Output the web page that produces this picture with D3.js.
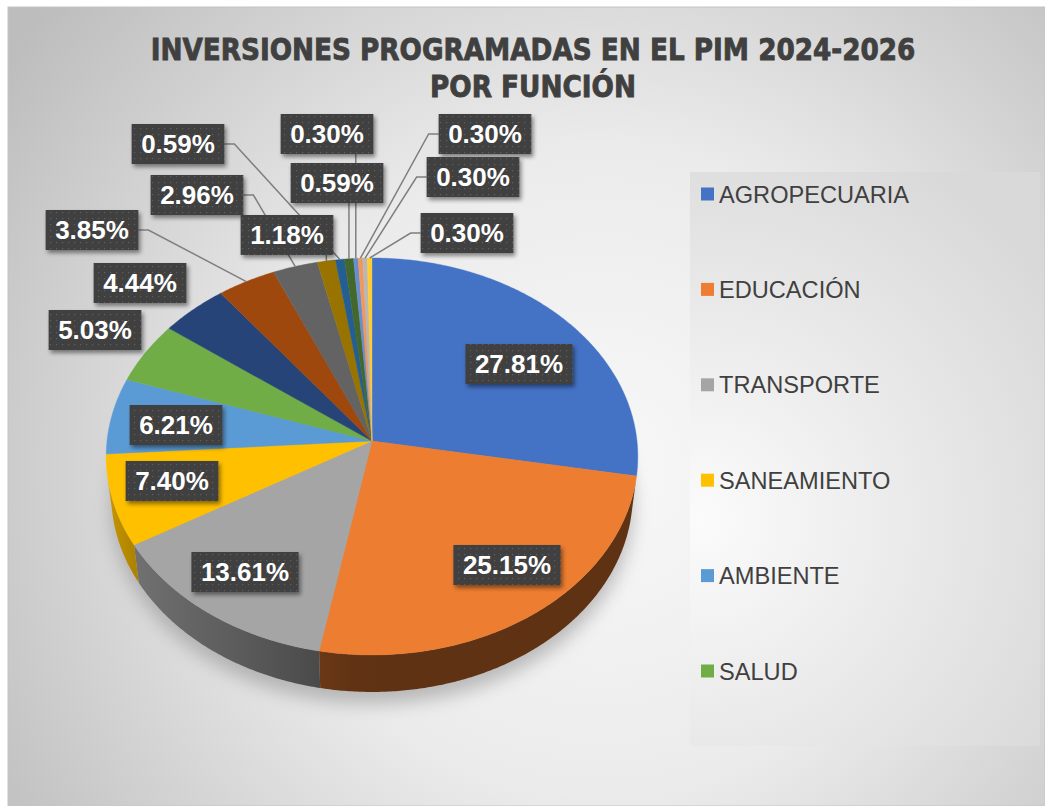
<!DOCTYPE html>
<html lang="es">
<head>
  <meta charset="UTF-8">
  <title>Inversiones programadas en el PIM 2024-2026 por función</title>
  <script src="https://d3js.org/d3.v7.min.js"></script>
  <style>
    body {
      margin: 0;
      background: #fff;
      font-family: "Liberation Sans", Arial, sans-serif;
    }
    svg { display: block; }
  </style>
</head>
<body>
  <div id="chart"></div>

  <script>
    // data (legend only lists the first six functions)
    const titulo = ["INVERSIONES PROGRAMADAS EN EL PIM 2024-2026", "POR FUNCIÓN"];
    const funciones = ["AGROPECUARIA", "EDUCACIÓN", "TRANSPORTE", "SANEAMIENTO", "AMBIENTE", "SALUD"];
    const porcentajes = [27.81, 25.15, 13.61, 7.40, 6.21, 5.03, 4.44, 3.85, 2.96, 1.18, 0.59, 0.59, 0.30, 0.30, 0.30, 0.30];
    const colores = ["#4472C4", "#ED7D31", "#A5A5A5", "#FFC000", "#5B9BD5", "#70AD47",
                     "#264478", "#9E480E", "#636363", "#997300", "#255E91", "#43682B",
                     "#698ED0", "#F1975A", "#B7B7B7", "#FFCD33"];

    // where each data label box sits (center) and whether it gets a leader line
    const etiquetas = [
      [519, 364, false], [507, 565, false], [245, 572, false], [172, 481, false],
      [176, 425, false], [95, 330, false], [140, 283, false], [92, 230, true],
      [197, 195, true], [287, 235, true], [178, 144, true], [337, 183, true],
      [327, 134, true], [485, 134, true], [473, 177, true], [467, 233, true]
    ];

    const width = 1045, height = 806;

    const svg = d3.select("#chart")
      .append("svg")
      .attr("width", width)
      .attr("height", height);

    const defs = svg.append("defs");

    const bgGrad = defs.append("radialGradient")
      .attr("id", "bg")
      .attr("gradientUnits", "userSpaceOnUse")
      .attr("cx", 600).attr("cy", 470).attr("r", 720);
    bgGrad.append("stop").attr("offset", "0").attr("stop-color", "#f8f8f8");
    bgGrad.append("stop").attr("offset", "0.45").attr("stop-color", "#ebebeb");
    bgGrad.append("stop").attr("offset", "1").attr("stop-color", "#bdbdbd");

    const legGrad = defs.append("radialGradient")
      .attr("id", "legbg")
      .attr("gradientUnits", "userSpaceOnUse")
      .attr("cx", 700).attr("cy", 520).attr("r", 420);
    legGrad.append("stop").attr("offset", "0").attr("stop-color", "#fbfbfb");
    legGrad.append("stop").attr("offset", "1").attr("stop-color", "#d9d9d9");

    const pat = defs.append("pattern")
      .attr("id", "dots")
      .attr("patternUnits", "userSpaceOnUse")
      .attr("width", 6).attr("height", 6);
    pat.append("rect").attr("width", 6).attr("height", 6).attr("fill", "#404040");
    pat.append("rect").attr("x", 2).attr("y", 2).attr("width", 1.2).attr("height", 1.2).attr("fill", "#5e5e5e");

    const shadow = defs.append("filter").attr("id", "boxShadow")
      .attr("x", "-20%").attr("y", "-30%").attr("width", "150%").attr("height", "170%");
    shadow.append("feDropShadow")
      .attr("dx", 2).attr("dy", 3).attr("stdDeviation", 2)
      .attr("flood-color", "#000").attr("flood-opacity", 0.45);

    const blur = defs.append("filter").attr("id", "pieShadow")
      .attr("x", "-30%").attr("y", "-30%").attr("width", "160%").attr("height", "160%");
    blur.append("feGaussianBlur").attr("stdDeviation", 9);

    defs.append("clipPath").attr("id", "plotClip")
      .append("rect").attr("x", 8).attr("y", 7).attr("width", 680).attr("height", 722);

    // background
    svg.append("rect")
      .attr("x", 8).attr("y", 7)
      .attr("width", width - 8).attr("height", height - 7)
      .attr("fill", "url(#bg)")
      .attr("stroke", "#c4c4c4");

    svg.append("rect")
      .attr("x", 690).attr("y", 172)
      .attr("width", 350).attr("height", 574)
      .attr("fill", "url(#legbg)");

    // title: heavy and condensed (squeezed horizontally to the reference width)
    const titleWidths = [765, 206];
    svg.append("g").selectAll("text")
      .data(titulo)
      .enter()
      .append("text")
      .attr("text-anchor", "middle")
      .style("font-family", "'DejaVu Sans', sans-serif")
      .style("font-size", "31px")
      .style("font-weight", "bold")
      .style("fill", "#404040")
      .style("stroke", "#404040")
      .style("stroke-width", 0.9)
      .text(d => d)
      .each(function(d, i) {
        const sx = titleWidths[i] / this.getComputedTextLength();
        d3.select(this).attr("transform", `translate(533,${60 + i * 37}) scale(${sx},1)`);
      });

    // 3D pie: perspective projection of a tilted disc
    const cx = 372, cy = 441, focal = 2271, dist = 8.57;
    const sa = 0.7444, ca = Math.sqrt(1 - sa * sa), depth = 0.22;

    function proj(a, r, y) {
      const X = r * Math.sin(a), Z = r * Math.cos(a);
      const yc = Z * sa + y * ca;
      const zc = dist + Z * ca - y * sa;
      return [cx + focal * X / zc, cy - focal * yc / zc];
    }

    const arcs = d3.pie().sort(null).value(d => d)(porcentajes);
    const line = d3.line();
    const step = Math.PI / 360;

    function arcPoints(a0, a1, y) {
      const n = Math.max(2, Math.ceil((a1 - a0) / step));
      return d3.range(n + 1).map(i => proj(a0 + (a1 - a0) * i / n, 1, y));
    }

    function shade(color, a) {
      const deg = a * 180 / Math.PI;
      const k = 0.4 + 0.38 * Math.max(0, Math.min(1, (deg - 180) / 80));
      const c = d3.rgb(color);
      return d3.rgb(c.r * k, c.g * k, c.b * k).formatHex();
    }

    // drop shadow beneath the pie
    svg.append("g")
      .attr("clip-path", "url(#plotClip)")
      .append("path")
      .attr("d", line(arcPoints(0, 2 * Math.PI, -depth).map(p => [p[0], p[1] + 12])) + "Z")
      .attr("fill", "#8c8c8c")
      .attr("opacity", 0.55)
      .attr("filter", "url(#pieShadow)");

    // visible outer wall: cos(a) < -1 / (dist * ca)
    const visLimit = Math.acos(-1 / (dist * ca));
    const walls = svg.append("g");
    arcs.forEach((d, i) => {
      const a0 = Math.max(d.startAngle, visLimit);
      const a1 = Math.min(d.endAngle, 2 * Math.PI - visLimit);
      if (a1 <= a0) return;
      const x0 = proj(a0, 1, 0)[0], x1 = proj(a1, 1, 0)[0];
      const gid = "wall" + i;
      const lg = defs.append("linearGradient")
        .attr("id", gid)
        .attr("gradientUnits", "userSpaceOnUse")
        .attr("x1", x0).attr("y1", 0).attr("x2", x1 === x0 ? x0 + 1 : x1).attr("y2", 0);
      d3.range(11).forEach(k => {
        lg.append("stop")
          .attr("offset", k / 10)
          .attr("stop-color", shade(colores[i], a0 + (a1 - a0) * k / 10));
      });
      const pts = arcPoints(a0, a1, 0).concat(arcPoints(a0, a1, -depth).reverse());
      walls.append("path")
        .attr("d", line(pts) + "Z")
        .attr("fill", `url(#${gid})`);
    });

    // top faces
    svg.append("g").selectAll("path")
      .data(arcs)
      .enter()
      .append("path")
      .attr("d", d => line([[cx, cy]].concat(arcPoints(d.startAngle, d.endAngle, 0))) + "Z")
      .attr("fill", (d, i) => colores[i])
      .attr("stroke", (d, i) => colores[i])
      .attr("stroke-width", 0.4);

    // data labels
    const fmt = d3.format(".2f");
    const leaders = svg.append("g");
    const labelG = svg.append("g");
    const boxH = 40, pad = 9.5;

    arcs.forEach((d, i) => {
      const [lx, ly, hasLeader] = etiquetas[i];
      const g = labelG.append("g");
      const rect = g.append("rect");
      const txt = g.append("text")
        .attr("x", lx)
        .attr("y", ly + 9.3)
        .attr("text-anchor", "middle")
        .style("font-size", "26px")
        .style("font-weight", "bold")
        .style("fill", "#ffffff")
        .text(fmt(d.value) + "%");
      const w = txt.node().getComputedTextLength() + 2 * pad;
      rect.attr("x", lx - w / 2).attr("y", ly - boxH / 2)
        .attr("width", w).attr("height", boxH)
        .attr("fill", "url(#dots)")
        .attr("filter", "url(#boxShadow)");

      if (!hasLeader) return;
      const mid = (d.startAngle + d.endAngle) / 2;
      const p = proj(mid, 1, 0);
      let pts;
      if (p[0] >= lx - w / 2 && p[0] <= lx + w / 2) {
        pts = [[p[0], ly + boxH / 2], p];
      } else if (p[0] > lx) {
        pts = [[lx + w / 2, ly], [lx + w / 2 + 10, ly], p];
      } else {
        pts = [[lx - w / 2, ly], [lx - w / 2 - 10, ly], p];
      }
      leaders.append("path")
        .attr("d", line(pts))
        .attr("fill", "none")
        .attr("stroke", "#7f7f7f")
        .attr("stroke-width", 1.5);
    });

    // legend (only the first six entries fit)
    const legY = d3.scalePoint()
      .domain(funciones)
      .range([194, 671]);

    const leg = svg.append("g").selectAll("g")
      .data(funciones)
      .enter()
      .append("g")
      .attr("transform", d => `translate(701,${legY(d)})`);

    leg.append("rect")
      .attr("x", 0).attr("y", -6.5)
      .attr("width", 13).attr("height", 13)
      .attr("fill", (d, i) => colores[i]);

    leg.append("text")
      .attr("x", 18)
      .attr("y", 8.5)
      .style("font-size", "23.6px")
      .style("fill", "#404040")
      .text(d => d);
  </script>
</body>
</html>
